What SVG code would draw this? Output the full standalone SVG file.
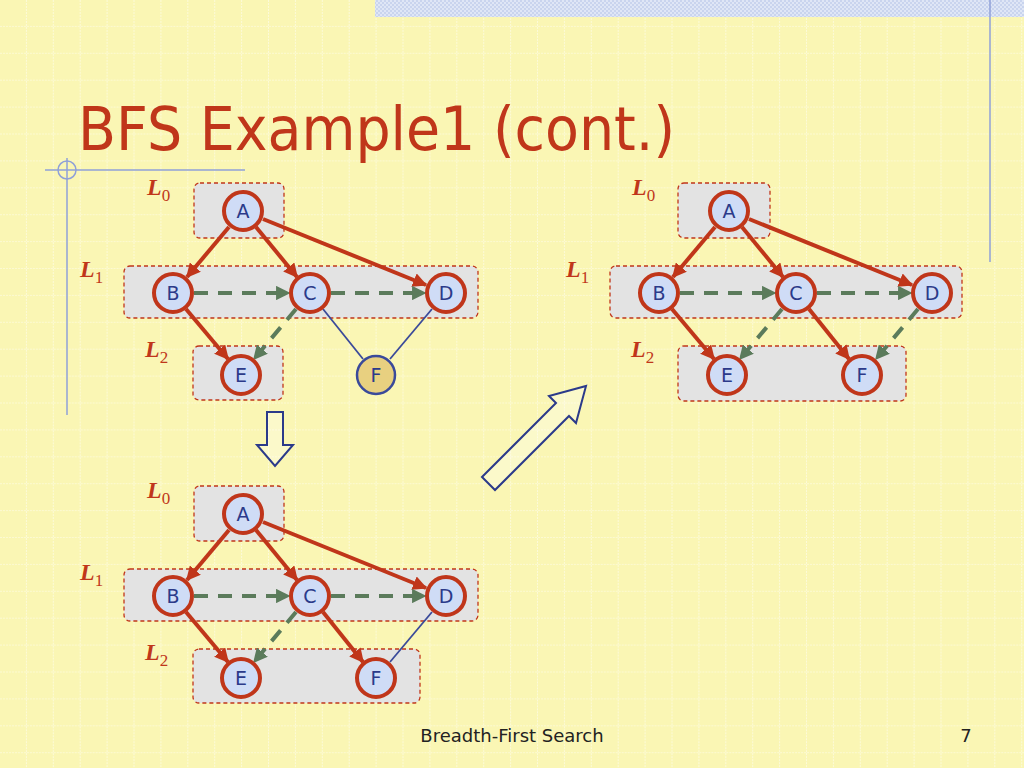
<svg xmlns="http://www.w3.org/2000/svg" width="1024" height="768" viewBox="0 0 1024 768">
<defs>
<pattern id="grid" width="26.9" height="26.9" patternUnits="userSpaceOnUse"><path d="M26.9 0V26.9M0 26.9H26.9" stroke="#ffffff" stroke-width="1.2" stroke-dasharray="2 1" fill="none" opacity="0.8"/></pattern>
<pattern id="chk" width="4" height="4" patternUnits="userSpaceOnUse"><rect width="4" height="4" fill="#dfe6f6"/><rect width="2" height="2" fill="#c9d4ee"/><rect x="2" y="2" width="2" height="2" fill="#c9d4ee"/></pattern>
<marker id="ar" viewBox="0 0 10 10" refX="9" refY="5" markerWidth="3.6" markerHeight="3.6" orient="auto"><path d="M0 0L10 5L0 10z" fill="#C0361A"/></marker>
<marker id="ag" viewBox="0 0 10 10" refX="9" refY="5" markerWidth="3.6" markerHeight="3.6" orient="auto"><path d="M0 0L10 5L0 10z" fill="#5B7B5B"/></marker>
</defs>
<style>
.lvl{fill:#e3e3e3;stroke:#C0361A;stroke-width:1.3;stroke-dasharray:4 3}
.n circle{fill:#cfdcf6;stroke:#C0361A;stroke-width:4}
.n text,.f text{font-family:"DejaVu Sans",Verdana,sans-serif;font-size:19px;fill:#2B3A8A;text-anchor:middle}
.f circle{fill:#E8D080;stroke:#3A4A9A;stroke-width:2.5}
.t{stroke:#C0361A;stroke-width:4;fill:none;marker-end:url(#ar)}
.g{stroke:#5B7B5B;stroke-width:4;stroke-dasharray:14 10;fill:none;marker-end:url(#ag)}
.b{stroke:#3A4A9A;stroke-width:1.8;fill:none}
.L{font-family:"Liberation Serif",serif;font-style:italic;font-weight:bold;font-size:24px;fill:#C0361A}
.L tspan{font-style:normal;font-weight:normal;font-size:17px}
.h{fill:#ffffff;fill-opacity:0.3;stroke:#2B3A8A;stroke-width:2}
</style>
<rect width="1024" height="768" fill="#FAF6B4"/>
<rect width="1024" height="768" fill="url(#grid)"/>
<rect x="375" y="0" width="649" height="17" fill="url(#chk)"/>
<line x1="990" y1="0" x2="990" y2="262" stroke="#8fa0d8" stroke-width="1.5"/>
<line x1="45" y1="170" x2="245" y2="170" stroke="#8fa0d8" stroke-width="1.5"/>
<line x1="67" y1="158" x2="67" y2="415" stroke="#8fa0d8" stroke-width="1.5"/>
<circle cx="67" cy="170" r="9" fill="none" stroke="#8fa0d8" stroke-width="1.5"/>
<text x="78" y="150" font-family="DejaVu Sans,Verdana,sans-serif" font-size="60" fill="#C0361A" textLength="597" lengthAdjust="spacingAndGlyphs">BFS Example1 (cont.)</text>

<!-- Graph 1 -->
<g id="graph1">
<rect class="lvl" x="194" y="183" width="90" height="55" rx="6"/>
<rect class="lvl" x="124" y="266" width="354" height="52" rx="6"/>
<rect class="lvl" x="193" y="346" width="90" height="54" rx="6"/>
<text class="L" x="147" y="195">L<tspan dy="6">0</tspan></text>
<text class="L" x="80" y="277">L<tspan dy="6">1</tspan></text>
<text class="L" x="145" y="357">L<tspan dy="6">2</tspan></text>
<g id="g1-edges">
<line class="t" x1="229" y1="227" x2="187" y2="277"/>
<line class="t" x1="256" y1="227" x2="297" y2="277"/>
<line class="t" x1="263" y1="219" x2="426" y2="285"/>
<line class="t" x1="186" y1="309" x2="228" y2="359"/>
<line class="g" x1="296" y1="309" x2="254" y2="359"/>
<line class="g" x1="194" y1="293" x2="289" y2="293"/>
<line class="g" x1="331" y1="293" x2="425" y2="293"/>
<line class="b" x1="323" y1="309" x2="363" y2="359"/>
<line class="b" x1="432" y1="309" x2="390" y2="359"/>
</g>
<g id="g1-A" class="n"><circle cx="243" cy="211" r="19"/><text x="243" y="218">A</text></g>
<g id="g1-B" class="n"><circle cx="173" cy="293" r="19"/><text x="173" y="300">B</text></g>
<g id="g1-C" class="n"><circle cx="310" cy="293" r="19"/><text x="310" y="300">C</text></g>
<g id="g1-D" class="n"><circle cx="446" cy="293" r="19"/><text x="446" y="300">D</text></g>
<g id="g1-E" class="n"><circle cx="241" cy="375" r="19"/><text x="241" y="382">E</text></g>
<g id="g1-F" class="f"><circle cx="376" cy="375" r="19"/><text x="376" y="382">F</text></g>
</g>

<!-- Graph 2 (right) -->
<g id="graph2">
<rect class="lvl" x="678" y="183" width="92" height="55" rx="6"/>
<rect class="lvl" x="610" y="266" width="352" height="52" rx="6"/>
<rect class="lvl" x="678" y="346" width="228" height="55" rx="6"/>
<text class="L" x="632" y="195">L<tspan dy="6">0</tspan></text>
<text class="L" x="566" y="277">L<tspan dy="6">1</tspan></text>
<text class="L" x="631" y="357">L<tspan dy="6">2</tspan></text>
<g id="g2-edges">
<line class="t" x1="715" y1="227" x2="673" y2="277"/>
<line class="t" x1="742" y1="227" x2="783" y2="277"/>
<line class="t" x1="749" y1="219" x2="912" y2="285"/>
<line class="t" x1="672" y1="309" x2="714" y2="359"/>
<line class="g" x1="782" y1="309" x2="740" y2="359"/>
<line class="g" x1="680" y1="293" x2="775" y2="293"/>
<line class="g" x1="817" y1="293" x2="911" y2="293"/>
<line class="t" x1="809" y1="309" x2="849" y2="359"/>
<line class="g" x1="918" y1="309" x2="876" y2="359"/>
</g>
<g id="g2-A" class="n"><circle cx="729" cy="211" r="19"/><text x="729" y="218">A</text></g>
<g id="g2-B" class="n"><circle cx="659" cy="293" r="19"/><text x="659" y="300">B</text></g>
<g id="g2-C" class="n"><circle cx="796" cy="293" r="19"/><text x="796" y="300">C</text></g>
<g id="g2-D" class="n"><circle cx="932" cy="293" r="19"/><text x="932" y="300">D</text></g>
<g id="g2-E" class="n"><circle cx="727" cy="375" r="19"/><text x="727" y="382">E</text></g>
<g id="g2-F" class="n"><circle cx="862" cy="375" r="19"/><text x="862" y="382">F</text></g>
</g>

<!-- Graph 3 (bottom) -->
<g id="graph3">
<rect class="lvl" x="194" y="486" width="90" height="55" rx="6"/>
<rect class="lvl" x="124" y="569" width="354" height="52" rx="6"/>
<rect class="lvl" x="193" y="649" width="227" height="54" rx="6"/>
<text class="L" x="147" y="498">L<tspan dy="6">0</tspan></text>
<text class="L" x="80" y="580">L<tspan dy="6">1</tspan></text>
<text class="L" x="145" y="660">L<tspan dy="6">2</tspan></text>
<g id="g3-edges">
<line class="t" x1="229" y1="530" x2="187" y2="580"/>
<line class="t" x1="256" y1="530" x2="297" y2="580"/>
<line class="t" x1="263" y1="522" x2="426" y2="588"/>
<line class="t" x1="186" y1="612" x2="228" y2="662"/>
<line class="g" x1="296" y1="612" x2="254" y2="662"/>
<line class="g" x1="194" y1="596" x2="289" y2="596"/>
<line class="g" x1="331" y1="596" x2="425" y2="596"/>
<line class="t" x1="323" y1="612" x2="363" y2="662"/>
<line class="b" x1="432" y1="612" x2="390" y2="662"/>
</g>
<g id="g3-A" class="n"><circle cx="243" cy="514" r="19"/><text x="243" y="521">A</text></g>
<g id="g3-B" class="n"><circle cx="173" cy="596" r="19"/><text x="173" y="603">B</text></g>
<g id="g3-C" class="n"><circle cx="310" cy="596" r="19"/><text x="310" y="603">C</text></g>
<g id="g3-D" class="n"><circle cx="446" cy="596" r="19"/><text x="446" y="603">D</text></g>
<g id="g3-E" class="n"><circle cx="241" cy="678" r="19"/><text x="241" y="685">E</text></g>
<g id="g3-F" class="n"><circle cx="376" cy="678" r="19"/><text x="376" y="685">F</text></g>
</g>

<!-- hollow arrows -->
<path class="h" d="M267 412H283V445H293L275 466L257 445H267Z"/>
<path class="h" d="M482 477L556 403L549 396L586 386L576 423L569 416L495 490Z"/>

<text x="512" y="742" font-family="DejaVu Sans,Verdana,sans-serif" font-size="18" fill="#222" text-anchor="middle">Breadth-First Search</text>
<text x="966" y="742" font-family="DejaVu Sans,Verdana,sans-serif" font-size="18" fill="#222" text-anchor="middle">7</text>
</svg>
